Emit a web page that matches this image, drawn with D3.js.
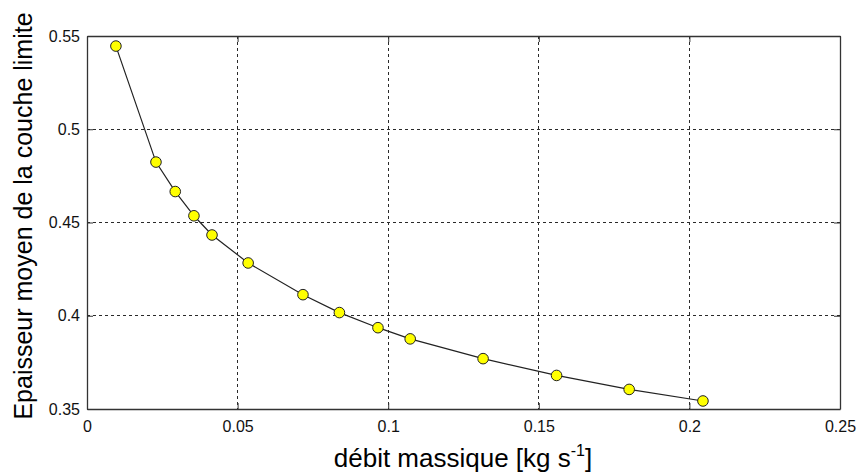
<!DOCTYPE html>
<html><head><meta charset="utf-8">
<script src="https://cdn.jsdelivr.net/npm/d3@7"></script>
<style>body{margin:0;background:#fff}svg{display:block;font-family:"Liberation Sans",Arial,sans-serif}</style>
</head><body><svg id="c" width="858" height="474"></svg>
<script>
const xValues = [0.0096, 0.0229, 0.0293, 0.0355, 0.0415, 0.0535, 0.0717, 0.0838, 0.0966, 0.1073, 0.1315, 0.1559, 0.1800, 0.2045];
const yValues = [0.5446, 0.4824, 0.4666, 0.4536, 0.4433, 0.4283, 0.4113, 0.4017, 0.3936, 0.3876, 0.3770, 0.3680, 0.3605, 0.3543];
const xTicks = [0, 0.05, 0.1, 0.15, 0.2, 0.25];
const yTicks = [0.35, 0.4, 0.45, 0.5, 0.55];
const xTickLabels = ["0", "0.05", "0.1", "0.15", "0.2", "0.25"];
const yTickLabels = ["0.35", "0.4", "0.45", "0.5", "0.55"];

const L = 87, R = 840, T = 36, B = 409;
const svg = d3.select("#c");
const x = d3.scaleLinear().domain([0, 0.25]).range([L, R]);
const y = d3.scaleLinear().domain([0.35, 0.55]).range([B, T]);

// grid
const g = svg.append("g");
g.selectAll(".vg").data(xTicks.slice(1, -1)).join("line")
  .attr("x1", d => x(d)).attr("x2", d => x(d)).attr("y1", T).attr("y2", B)
  .attr("stroke", "#2a2a2a").attr("stroke-width", 1).attr("stroke-dasharray", "3,3")
  .attr("shape-rendering", "crispEdges");
g.selectAll(".hg").data(yTicks.slice(1, -1)).join("line")
  .attr("y1", d => y(d)).attr("y2", d => y(d)).attr("x1", L).attr("x2", R)
  .attr("stroke", "#2a2a2a").attr("stroke-width", 1).attr("stroke-dasharray", "3,3")
  .attr("shape-rendering", "crispEdges");

// axes with inward ticks
const xAxisB = d3.axisBottom(x).tickValues(xTicks).tickFormat((d, i) => xTickLabels[i]).tickSizeInner(-6).tickSizeOuter(0).tickPadding(12);
const xAxisT = d3.axisTop(x).tickValues(xTicks).tickFormat("").tickSizeInner(-6).tickSizeOuter(0);
const yAxisL = d3.axisLeft(y).tickValues(yTicks).tickFormat((d, i) => yTickLabels[i]).tickSizeInner(-6).tickSizeOuter(0).tickPadding(13);
const yAxisR = d3.axisRight(y).tickValues(yTicks).tickFormat("").tickSizeInner(-6).tickSizeOuter(0);

function style(sel) {
  sel.selectAll("path").attr("stroke", "#333").attr("stroke-width", 1.3);
  sel.selectAll("line").attr("stroke", "#333").attr("stroke-width", 1);
  sel.selectAll("text").attr("fill", "#111").style("font-size", "16px").style("font-family", '"Liberation Sans",Arial,sans-serif');
}
style(svg.append("g").attr("transform", `translate(0,${B})`).call(xAxisB));
style(svg.append("g").attr("transform", `translate(0,${T})`).call(xAxisT));
style(svg.append("g").attr("transform", `translate(${L},0)`).call(yAxisL));
style(svg.append("g").attr("transform", `translate(${R},0)`).call(yAxisR));
svg.selectAll("g").filter(function(){return this.getAttribute("transform")===`translate(${L},0)`;})
  .selectAll("text").attr("x", -7);

// line
const data = xValues.map((v, i) => [v, yValues[i]]);
svg.append("path").datum(data)
  .attr("d", d3.line().x(d => x(d[0])).y(d => y(d[1])))
  .attr("fill", "none").attr("stroke", "#222").attr("stroke-width", 1.2);
svg.selectAll(".pt").data(data).join("circle")
  .attr("cx", d => x(d[0])).attr("cy", d => y(d[1])).attr("r", 5.3)
  .attr("fill", "#ffff00").attr("stroke", "#222").attr("stroke-width", 1);

// labels
const xl = svg.append("text").attr("x", 463).attr("y", 467).attr("text-anchor", "middle")
  .style("font-size", "26px").attr("fill", "#000");
xl.append("tspan").text("débit massique [kg s");
xl.append("tspan").text("-1").attr("dy", -11).style("font-size", "16px");
xl.append("tspan").text("]").attr("dy", 11);

svg.append("text").attr("transform", `translate(32,216) rotate(-90)`)
  .attr("text-anchor", "middle").style("font-size", "25px").attr("fill", "#000")
  .text("Epaisseur moyen de la couche limite");
</script></body></html>
